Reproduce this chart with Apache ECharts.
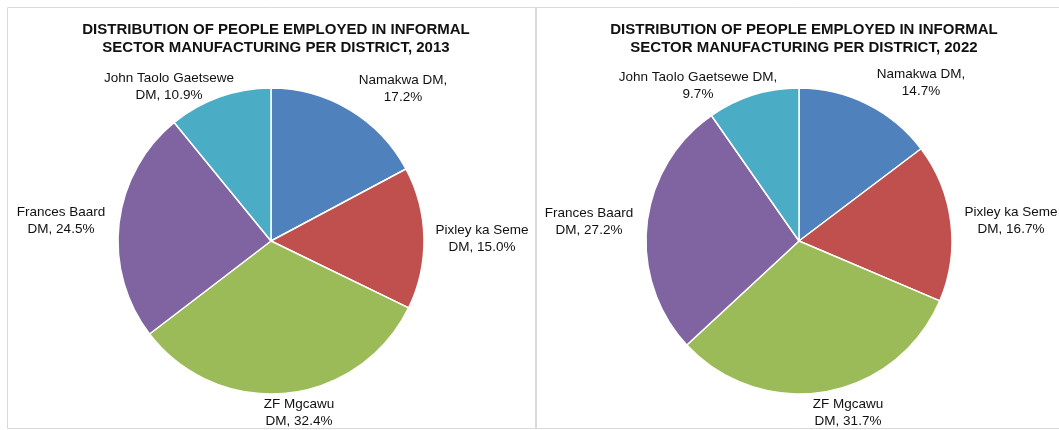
<!DOCTYPE html>
<html>
<head>
<meta charset="utf-8">
<script src="https://cdn.jsdelivr.net/npm/echarts@6/dist/echarts.min.js"></script>
<style>
  html, body { margin: 0; padding: 0; background: #fff; }
  #chart { width: 1059px; height: 430px; }
</style>
</head>
<body>
<div id="chart"></div>
<script>
// districts, clockwise from 12 o'clock
const districts = ['Namakwa', 'Pixley ka Seme', 'ZF Mgcawu', 'Frances Baard', 'John Taolo Gaetsewe'];
const share2013 = [17.2, 15.0, 32.4, 24.5, 10.9];
const share2022 = [14.7, 16.7, 31.7, 27.2, 9.7];
// true = label breaks after "DM," instead of before it
const breakAfterDM2013 = [true, false, false, false, false];
const breakAfterDM2022 = [true, false, false, false, true];
const titlePrefix = 'DISTRIBUTION OF PEOPLE EMPLOYED IN INFORMAL\nSECTOR MANUFACTURING PER DISTRICT, ';

const colors = ['#4F81BD', '#C0504D', '#9BBB59', '#8064A2', '#4BACC6'];

// label centres (px), roughly where excel put them
const labelPos2013 = [[403, 89], [482, 239], [299, 413], [61, 221], [169, 87]];
const labelPos2022 = [[921, 83], [1011, 221], [848, 413], [589, 222], [698, 86]];

function labelText(i, value, breaks) {
    const v = value.toFixed(1) + '%';
    return breaks[i] ? districts[i] + ' DM,\n' + v : districts[i] + '\nDM, ' + v;
}

function pieSeries(values, breaks, center, pos) {
    return {
        type: 'pie',
        center: center,
        radius: 153,
        startAngle: 90,
        clockwise: true,
        avoidLabelOverlap: false,
        animation: false,
        data: values.map((v, i) => ({ name: districts[i], value: v })),
        itemStyle: { borderColor: '#fff', borderWidth: 1.5 },
        label: {
            show: true,
            position: 'outside',
            formatter: (p) => labelText(p.dataIndex, p.value, breaks),
            color: '#111',
            fontFamily: 'Liberation Sans, Arial, sans-serif',
            fontSize: 13.5,
            lineHeight: 17,
            align: 'center'
        },
        labelLine: { show: false },
        labelLayout: (p) => ({
            x: pos[p.dataIndex][0],
            y: pos[p.dataIndex][1],
            align: 'center',
            verticalAlign: 'middle'
        }),
        emphasis: { disabled: true }
    };
}

const chart = echarts.init(document.getElementById('chart'));
const titleStyle = {
    fontFamily: 'Liberation Sans, Arial, sans-serif',
    fontSize: 15,
    fontWeight: 'bold',
    color: '#111',
    lineHeight: 18
};
chart.setOption({
    color: colors,
    title: [
        { text: titlePrefix + '2013', left: 271, top: 16, textAlign: 'center', textStyle: titleStyle },
        { text: titlePrefix + '2022', left: 799, top: 16, textAlign: 'center', textStyle: titleStyle }
    ],
    graphic: [
        {
            type: 'rect',
            shape: { x: 7.5, y: 7.5, width: 1100, height: 421 },
            style: { fill: 'none', stroke: '#d9d9d9', lineWidth: 1 },
            silent: true
        },
        {
            type: 'line',
            shape: { x1: 536, y1: 7, x2: 536, y2: 429 },
            style: { stroke: '#d9d9d9', lineWidth: 2 },
            silent: true
        }
    ],
    series: [
        pieSeries(share2013, breakAfterDM2013, [271, 241], labelPos2013),
        pieSeries(share2022, breakAfterDM2022, [799, 241], labelPos2022)
    ]
});
</script>
</body>
</html>
